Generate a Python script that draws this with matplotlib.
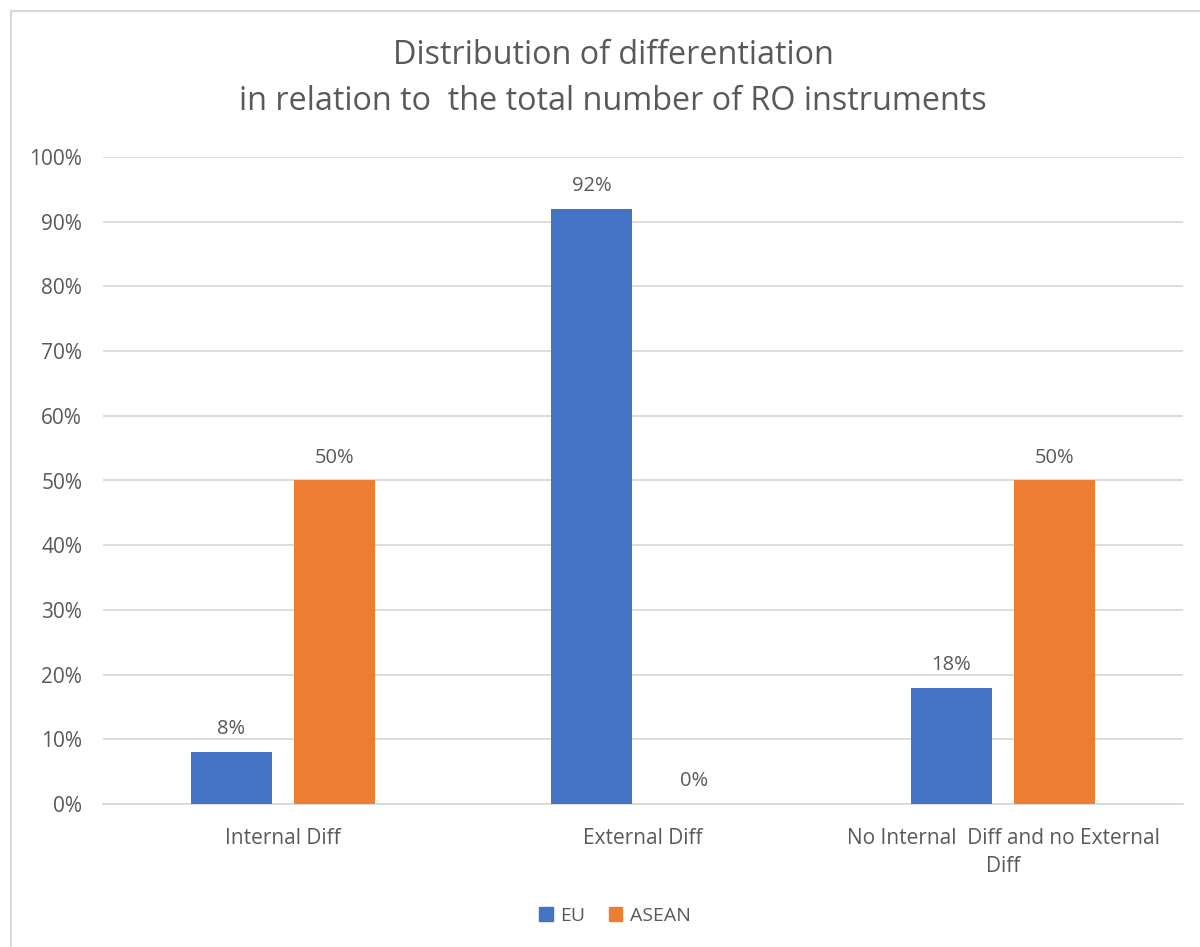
import numpy as np
import matplotlib.pyplot as plt
from matplotlib.lines import Line2D

plt.rcParams["font.family"] = ["Open Sans", "DejaVu Sans"]

categories = ["Internal Diff", "External Diff", "No Internal  Diff and no External\nDiff"]
eu = [8, 92, 18]
asean = [50, 0, 50]
series_names = ["EU", "ASEAN"]
colors = ["#4472C4", "#ED7D31"]
yticks = [0, 10, 20, 30, 40, 50, 60, 70, 80, 90, 100]

TXT = "#595959"
GRID = "#D9D9D9"


def main():
    W, H = 1200, 947
    fig = plt.figure(figsize=(W / 100, H / 100), dpi=100)
    ax = fig.add_axes([103 / W, 1 - 804 / H, 1080 / W, (804 - 157) / H])

    x = np.arange(len(categories))
    bw = 0.224
    off = 0.143
    for vals, name, c, dx in zip([eu, asean], series_names, colors, [-off, off]):
        bars = ax.bar(x + dx, vals, width=bw, color=c, label=name, zorder=3)
        for b, v in zip(bars, vals):
            ax.text(b.get_x() + b.get_width() / 2, v + 2.0, f"{v}%",
                    ha="center", va="bottom", fontsize=14.5, color=TXT)

    ax.set_xlim(-0.5, 2.5)
    ax.set_ylim(0, 100)
    ax.set_yticks(yticks)
    ax.set_yticklabels([f"{t}%" for t in yticks])
    ax.set_xticks(x)
    ax.set_xticklabels(categories, linespacing=1.45)
    ax.tick_params(axis="both", length=0, labelsize=15, colors=TXT)
    ax.tick_params(axis="y", pad=15)
    ax.tick_params(axis="x", pad=17)
    ax.yaxis.grid(True, color=GRID, linewidth=1.3, zorder=0)
    for s in ["top", "right", "left"]:
        ax.spines[s].set_visible(False)
    ax.spines["bottom"].set_color(GRID)
    ax.spines["bottom"].set_linewidth(1.3)

    fig.text(613 / W, 1 - 55 / H, "Distribution of differentiation",
             ha="center", va="center", fontsize=23.3, color=TXT)
    fig.text(613 / W, 1 - 102 / H, "in relation to  the total number of RO instruments",
             ha="center", va="center", fontsize=23.3, color=TXT)

    handles = [plt.Rectangle((0, 0), 1, 1, color=c) for c in colors]
    fig.legend(handles, series_names, loc="center", bbox_to_anchor=(615 / W, 1 - 916 / H),
               ncol=2, frameon=False, fontsize=14, labelcolor=TXT,
               handlelength=0.7, handleheight=0.7, handletextpad=0.4, columnspacing=1.2)

    # chart border
    fig.add_artist(Line2D([11 / W, 11 / W], [0, 1 - 11 / H], transform=fig.transFigure,
                          color=GRID, linewidth=1.5))
    fig.add_artist(Line2D([11 / W, 1], [1 - 11 / H, 1 - 11 / H], transform=fig.transFigure,
                          color=GRID, linewidth=1.5))

    fig.savefig("out.png", dpi=100)
    plt.close(fig)


if __name__ == "__main__":
    main()
